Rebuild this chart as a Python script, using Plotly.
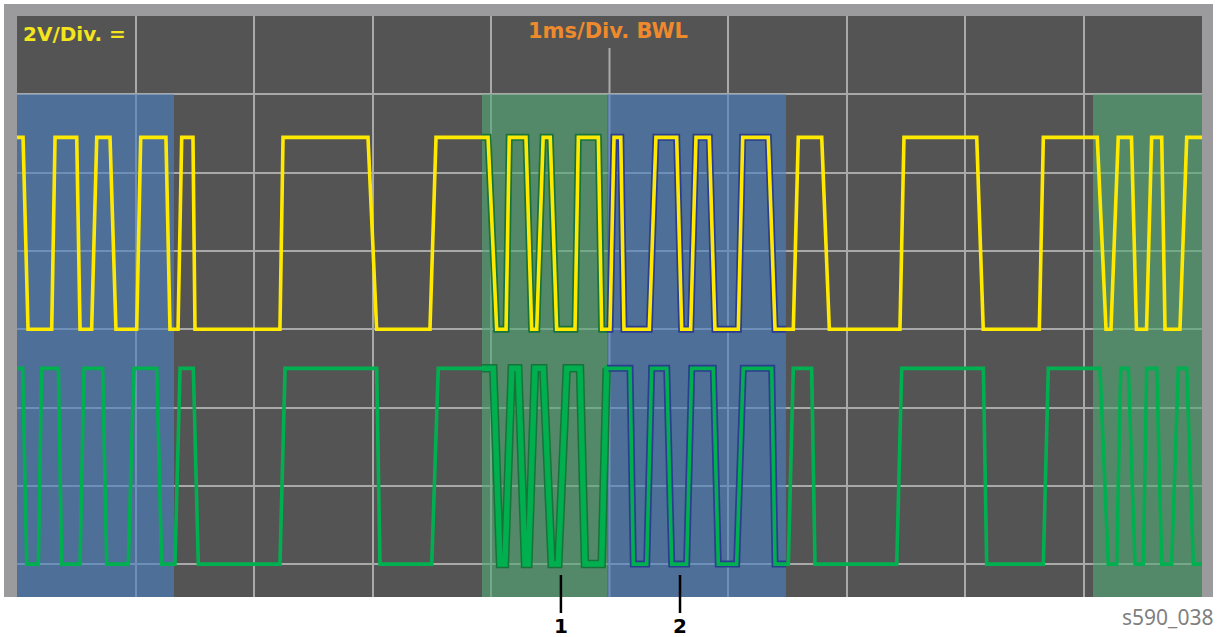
import numpy as np
import plotly.graph_objects as go

# ---------------- data (time in ms, voltage in V) ----------------
yellow_t = [0.000, 0.051, 0.093, 0.293, 0.321, 0.504, 0.532, 0.630, 0.673, 0.785,
            0.835, 1.010, 1.044, 1.257, 1.291, 1.359, 1.390, 1.485, 1.502, 2.219,
            2.245, 2.962, 3.035, 3.485, 3.536, 3.975, 4.048, 4.127, 4.154, 4.295,
            4.343, 4.386, 4.440, 4.500, 4.554, 4.709, 4.737, 4.906, 4.934, 5.004,
            5.038, 5.095, 5.122, 5.336, 5.392, 5.567, 5.609, 5.685, 5.730, 5.842,
            5.890, 6.087, 6.124, 6.340, 6.397, 6.551, 6.593, 6.791, 6.855, 7.451,
            7.485, 8.099, 8.154, 8.627, 8.661, 9.116, 9.190, 9.232, 9.293, 9.405,
            9.447, 9.532, 9.575, 9.660, 9.688, 9.814, 9.871, 10.000]
yellow_v = [4.9, 4.9, 0.0, 0.0, 4.9, 4.9, 0.0, 0.0, 4.9, 4.9,
            0.0, 0.0, 4.9, 4.9, 0.0, 0.0, 4.9, 4.9, 0.0, 0.0,
            4.9, 4.9, 0.0, 0.0, 4.9, 4.9, 0.0, 0.0, 4.9, 4.9,
            0.0, 0.0, 4.9, 4.9, 0.0, 0.0, 4.9, 4.9, 0.0, 0.0,
            4.9, 4.9, 0.0, 0.0, 4.9, 4.9, 0.0, 0.0, 4.9, 4.9,
            0.0, 0.0, 4.9, 4.9, 0.0, 0.0, 4.9, 4.9, 0.0, 0.0,
            4.9, 4.9, 0.0, 0.0, 4.9, 4.9, 0.0, 0.0, 4.9, 4.9,
            0.0, 0.0, 4.9, 4.9, 0.0, 0.0, 4.9, 4.9]

green_t = [0.000, 0.048, 0.082, 0.180, 0.208, 0.349, 0.377, 0.532, 0.565, 0.723,
           0.757, 0.939, 0.987, 1.179, 1.221, 1.333, 1.376, 1.488, 1.530, 2.219,
           2.262, 3.035, 3.063, 3.500, 3.555, 4.019, 4.076, 4.118, 4.175, 4.230,
           4.287, 4.315, 4.371, 4.441, 4.512, 4.568, 4.639, 4.751, 4.793, 4.934,
           4.976, 5.173, 5.201, 5.314, 5.356, 5.483, 5.525, 5.651, 5.694, 5.876,
           5.918, 6.073, 6.129, 6.369, 6.397, 6.509, 6.551, 6.706, 6.734, 7.424,
           7.466, 8.155, 8.183, 8.661, 8.703, 9.139, 9.209, 9.280, 9.314, 9.378,
           9.435, 9.505, 9.533, 9.618, 9.660, 9.744, 9.800, 9.871, 9.927, 10.000]
green_v = [-1.0, -1.0, -6.0, -6.0, -1.0, -1.0, -6.0, -6.0, -1.0, -1.0,
           -6.0, -6.0, -1.0, -1.0, -6.0, -6.0, -1.0, -1.0, -6.0, -6.0,
           -1.0, -1.0, -6.0, -6.0, -1.0, -1.0, -6.0, -6.0, -1.0, -1.0,
           -6.0, -6.0, -1.0, -1.0, -6.0, -6.0, -1.0, -1.0, -6.0, -6.0,
           -1.0, -1.0, -6.0, -6.0, -1.0, -1.0, -6.0, -6.0, -1.0, -1.0,
           -6.0, -6.0, -1.0, -1.0, -6.0, -6.0, -1.0, -1.0, -6.0, -6.0,
           -1.0, -1.0, -6.0, -6.0, -1.0, -1.0, -6.0, -6.0, -1.0, -1.0,
           -6.0, -6.0, -1.0, -1.0, -6.0, -6.0, -1.0, -1.0, -6.0, -6.0]

# highlighted time windows (ms)
region_start = [0.000, 3.924, 4.979, 9.080]
region_end = [1.325, 4.979, 6.489, 10.000]
region_kind = ["blue", "green", "blue", "green"]
region_outlined = [False, True, True, False]

marker_labels = ["1", "2"]
marker_t = [4.590, 5.595]

x_ticks = [1, 2, 3, 4, 6, 7, 8, 9]
y_ticks = [-6, -4, -2, 0, 2, 4, 6]
x_range = [0, 10]
y_range = [-6.84, 8.0]
region_top = 6.0

# ---------------- styles ----------------
BG = "#545454"
GRID = "#a9a9a9"
BORDER = "#9b9b9d"
YELLOW = "#ffe900"
GREEN = "#00b050"
FILL = {"blue": "rgba(75,128,192,0.62)", "green": "rgba(83,170,117,0.62)"}
OUTLINE = {"blue": "#2b3d8f", "green": "#16743a"}
BOLD = "DejaVu Sans, Verdana, sans-serif"

fig = go.Figure()

# highlight windows (drawn above the grid, below the signals)
for a, b, k in zip(region_start, region_end, region_kind):
    fig.add_trace(go.Scatter(
        x=[a, b, b, a, a], y=[y_range[0] - 1, y_range[0] - 1, region_top, region_top, y_range[0] - 1],
        mode="lines", fill="toself", fillcolor=FILL[k], line=dict(width=0),
        hoverinfo="skip", showlegend=False))


def clip(t, v, a, b):
    t = np.asarray(t, float)
    v = np.asarray(v, float)
    inner = (t > a) & (t < b)
    ts = np.concatenate([[a], t[inner], [b]])
    vs = np.concatenate([[np.interp(a, t, v)], v[inner], [np.interp(b, t, v)]])
    return ts, vs


# outlined signal segments inside the marked windows
for a, b, k, o in zip(region_start, region_end, region_kind, region_outlined):
    if not o:
        continue
    ts, vs = clip(yellow_t, yellow_v, a, b)
    fig.add_trace(go.Scatter(x=ts, y=vs, mode="lines",
                             line=dict(color=OUTLINE[k], width=7),
                             hoverinfo="skip", showlegend=False))
    ts, vs = clip(green_t, green_v, a, b)
    fig.add_trace(go.Scatter(x=ts, y=vs, mode="lines",
                             line=dict(color=OUTLINE[k], width=8.5 if k == "green" else 7),
                             hoverinfo="skip", showlegend=False))
    if k == "green":
        fig.add_trace(go.Scatter(x=ts, y=vs, mode="lines",
                                 line=dict(color="#00ae4c", width=5.5),
                                 hoverinfo="skip", showlegend=False))

fig.add_trace(go.Scatter(x=yellow_t, y=yellow_v, mode="lines",
                         line=dict(color=YELLOW, width=3.6),
                         name="CH1", showlegend=False))
fig.add_trace(go.Scatter(x=green_t, y=green_v, mode="lines",
                         line=dict(color=GREEN, width=3.6),
                         name="CH2", showlegend=False))

# plot geometry helpers (paper units)
W, H = 1217, 637
ML, MR, MT, MB = 17, 15, 16, 40
pw, ph = W - ML - MR, H - MT - MB


def px(xpix):
    return (xpix - ML) / pw


def py(ypix):
    return (H - MB - ypix) / ph


shapes = []
# gray bezel
shapes.append(dict(type="rect", xref="paper", yref="paper", x0=px(4), x1=0, y0=0, y1=py(4),
                   fillcolor=BORDER, line=dict(width=0), layer="above"))
shapes.append(dict(type="rect", xref="paper", yref="paper", x0=1, x1=px(1213), y0=0, y1=py(4),
                   fillcolor=BORDER, line=dict(width=0), layer="above"))
shapes.append(dict(type="rect", xref="paper", yref="paper", x0=px(4), x1=px(1213), y0=1, y1=py(4),
                   fillcolor=BORDER, line=dict(width=0), layer="above"))
# centre vertical graticule line (starts below the header text)
shapes.append(dict(type="line", xref="x", yref="paper", x0=5, x1=5, y0=0, y1=py(48),
                   line=dict(color=GRID, width=2), layer="below"))
# marker pointers
for t in marker_t:
    shapes.append(dict(type="line", xref="x", yref="paper", x0=t, x1=t, y0=py(613), y1=py(575),
                       line=dict(color="black", width=2.5), layer="above"))

annotations = [
    dict(text="<b>2V/Div. =</b>", xref="paper", yref="paper", x=px(21), y=py(20),
         xanchor="left", yanchor="top", showarrow=False,
         font=dict(family=BOLD, size=20, color="#f4e51c")),
    dict(text="<b>1ms/Div. BWL</b>", xref="paper", yref="paper", x=px(607.5), y=py(17),
         xanchor="center", yanchor="top", showarrow=False,
         font=dict(family=BOLD, size=21, color="#ee8a2c")),
    dict(text="s590_038", xref="paper", yref="paper", x=px(1215), y=py(617),
         xanchor="right", yanchor="middle", showarrow=False,
         font=dict(family="Noto Sans, Open Sans, sans-serif", size=21, color="#808080")),
]
for lab, t in zip(marker_labels, marker_t):
    annotations.append(dict(text="<b>%s</b>" % lab, xref="x", yref="paper", x=t, y=py(626),
                            xanchor="center", yanchor="middle", showarrow=False,
                            font=dict(family=BOLD, size=20, color="black")))

fig.update_layout(
    width=W, height=H,
    margin=dict(l=ML, r=MR, t=MT, b=MB, pad=0),
    paper_bgcolor="white", plot_bgcolor=BG,
    shapes=shapes, annotations=annotations,
    showlegend=False,
    xaxis=dict(range=x_range, tickvals=x_ticks, showticklabels=False, ticks="",
               showgrid=True, gridcolor=GRID, gridwidth=2, zeroline=False,
               showline=False, fixedrange=True),
    yaxis=dict(range=y_range, tickvals=y_ticks, showticklabels=False, ticks="",
               showgrid=True, gridcolor=GRID, gridwidth=2, zeroline=False,
               showline=False, fixedrange=True),
)

fig.write_html("out.html", config={"displayModeBar": False},
               post_script="document.body.style.margin='0';document.body.style.overflow='hidden';")
